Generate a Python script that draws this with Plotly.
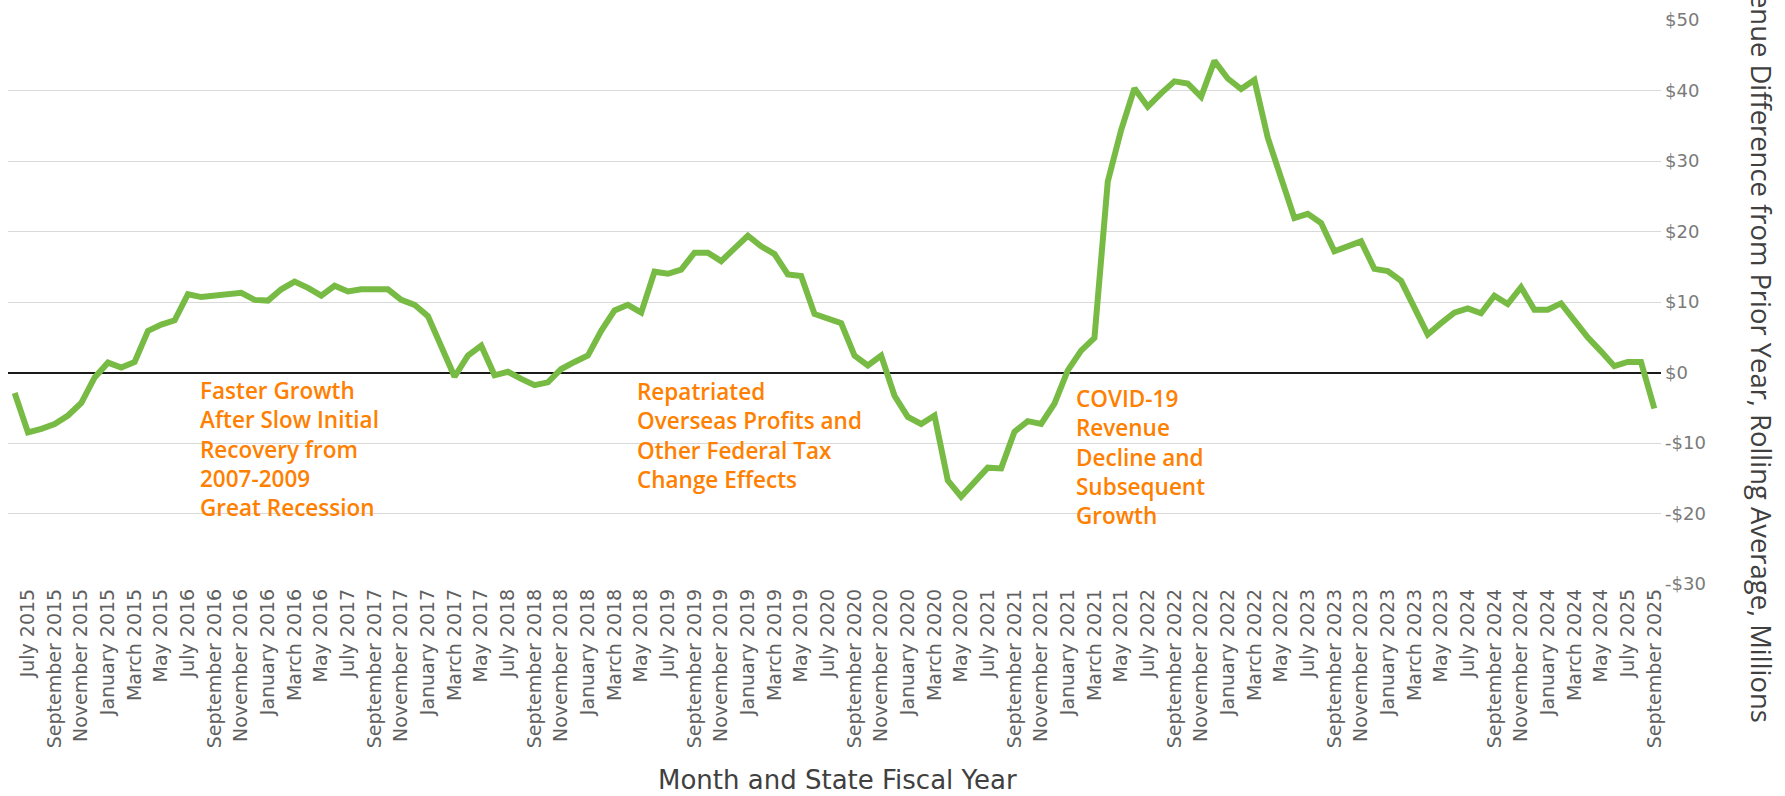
import plotly.graph_objects as go

# ---- data -------------------------------------------------------------
month_names = ["June", "July", "August", "September", "October", "November",
               "December", "January", "February", "March", "April", "May"]
first_label_year = 2014   # fiscal-year label used for the first (June) point

revenue_diff = [
    -2.9, -8.5, -8.0, -7.3, -6.1, -4.3, -0.7, 1.4, 0.7, 1.5,
    5.9, 6.8, 7.4, 11.1, 10.7, 10.9, 10.9, 11.3, 10.3, 10.2,
    11.8, 12.9, 12.0, 10.9, 12.3, 11.5, 11.8, 11.8, 11.8, 10.3,
    9.6, 8.0, 3.8, -0.6, 2.4, 3.8, -0.4, 0.1, -0.9, -1.8,
    -1.4, 0.5, 1.5, 2.4, 5.9, 8.8, 9.6, 8.5, 14.3, 14.0,
    14.6, 17.0, 17.0, 15.8, 17.6, 19.4, 17.9, 16.8, 13.9, 13.7,
    8.3, 7.6, 7.0, 2.4, 1.0, 2.4, -3.3, -6.3, -7.3, -6.1,
    -15.3, -17.6, -15.5, -13.5, -13.6, -8.4, -6.9, -7.3, -4.4, 0.3,
    3.1, 4.9, 27.1, 34.4, 40.3, 37.7, 39.6, 41.3, 41.0, 39.1,
    44.2, 41.7, 40.2, 41.5, 33.3, 27.6, 21.9, 22.5, 21.2, 17.2,
    17.9, 18.6, 14.7, 14.4, 13.0, 9.2, 5.4, 7.0, 8.5, 9.1,
    8.4, 10.9, 9.7, 12.1, 8.9, 8.9, 9.8, 7.4, 5.0, 3.0,
    0.9, 1.5, 1.5, -5.1,
]

# Category labels: month + state fiscal year label (year changes in July)
months = []
year = first_label_year
for i in range(len(revenue_diff)):
    name = month_names[i % 12]
    if name == "July":
        year += 1
    months.append(f"{name} {year}")

tick_labels = months[1::2]          # every other month is labelled
y_ticks = [-30, -20, -10, 0, 10, 20, 30, 40, 50]
y_tick_text = [f"-${abs(v)}" if v < 0 else f"${v}" for v in y_ticks]

notes = [
    (["Faster Growth", "After Slow Initial", "Recovery from", "2007-2009", "Great Recession"], 13.75, -10.8),
    (["Repatriated", "Overseas Profits and", "Other Federal Tax", "Change Effects"], 46.55, -8.95),
    (["COVID-19", "Revenue", "Decline and", "Subsequent", "Growth"], 79.45, -11.95),
]

# ---- figure -----------------------------------------------------------
W, H = 1785, 796
ML, MR, MT, MB = 8, 124, 20, 212
FONT = "DejaVu Sans"

fig = go.Figure()
fig.add_trace(go.Scatter(
    x=months, y=revenue_diff, mode="lines",
    line=dict(color="#77BB44", width=6),
    showlegend=False, hoverinfo="x+y",
))

for lines, xi, yc in notes:
    fig.add_annotation(
        text="<br>".join(lines), x=xi, y=yc, xref="x", yref="y",
        xanchor="left", yanchor="middle", align="left", showarrow=False,
        font=dict(family="Open Sans", size=22.5, weight=600, color="#FF8000"),
    )

# axis titles as text annotations
fig.add_annotation(
    text="Month and State Fiscal Year", xref="paper", yref="paper",
    x=0.502, y=-0.347, xanchor="center", yanchor="middle", showarrow=False,
    font=dict(family=FONT, size=26, color="#404040"),
)
fig.add_annotation(
    text="Revenue Difference from Prior Year, Rolling Average, Millions",
    xref="paper", yref="paper", x=1.0 + (1762 - (W - MR)) / (W - ML - MR),
    y=(H - MB - 335) / (H - MT - MB),
    xanchor="center", yanchor="middle", textangle=90, showarrow=False,
    font=dict(family="Open Sans", size=27.4, color="#404040"),
)

fig.update_layout(
    width=W, height=H,
    margin=dict(l=ML, r=MR, t=MT, b=MB, autoexpand=False),
    paper_bgcolor="white", plot_bgcolor="white",
    font=dict(family=FONT),
)
fig.update_xaxes(
    type="category", tickmode="array", tickvals=tick_labels, ticktext=tick_labels,
    tickangle=-90, showgrid=False, showline=False, ticks="", zeroline=False,
    tickfont=dict(family=FONT, size=19, color="#5f5f5f"),
    range=[-0.5, len(revenue_diff) - 0.5], automargin=False,
    ticklabelstandoff=0,
)
fig.update_yaxes(
    side="right", range=[-30, 50], tickmode="array", tickvals=y_ticks,
    ticktext=y_tick_text, showgrid=True, gridcolor="#d9d9d9", gridwidth=1.3,
    zeroline=True, zerolinecolor="#1a1a1a", zerolinewidth=2,
    showline=False, ticks="", automargin=False,
    tickfont=dict(family=FONT, size=18, color="#7a7a7a"),
    ticklabelstandoff=3,
)

fig.write_html(
    "out.html",
    config={"displayModeBar": False},
    post_script="document.body.style.margin='0';document.body.style.overflow='hidden';",
)
